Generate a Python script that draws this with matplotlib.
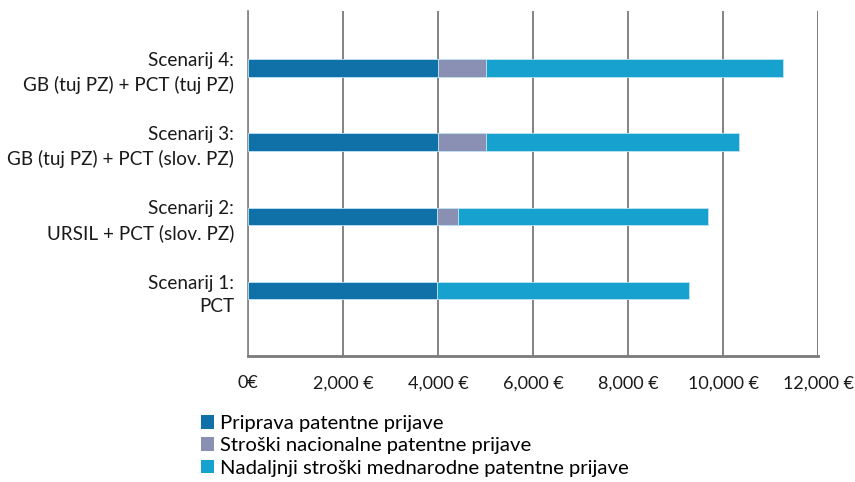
import matplotlib.pyplot as plt
from matplotlib.ticker import FuncFormatter

plt.rcParams['font.family'] = ['Lato', 'DejaVu Sans']

# Data
scenarios = ["Scenarij 1:\nPCT",
             "Scenarij 2:\nURSIL + PCT (slov. PZ)",
             "Scenarij 3:\nGB (tuj PZ) + PCT (slov. PZ)",
             "Scenarij 4:\nGB (tuj PZ) + PCT (tuj PZ)"]
priprava = [3970, 3970, 4000, 4000]
nacionalni = [0, 450, 1020, 1020]
mednarodni = [5310, 5270, 5310, 6240]

series_names = ["Priprava patentne prijave",
                "Stroški nacionalne patentne prijave",
                "Nadaljnji stroški mednarodne patentne prijave"]
colors = ["#1070A8", "#8A90B4", "#17A1CF"]

fig = plt.figure(figsize=(8.55, 4.82), dpi=100)
ax = fig.add_axes([248 / 855, 1 - 356 / 482, 570 / 855, 345 / 482])

y = range(len(scenarios))
left = [0] * len(scenarios)
handles = []
for vals, name, col in zip([priprava, nacionalni, mednarodni], series_names, colors):
    b = ax.barh(y, vals, left=left, height=0.237, color=col,
                edgecolor="#BFE3F2", linewidth=0.6, label=name, zorder=3)
    handles.append(b)
    left = [l + v for l, v in zip(left, vals)]

ax.set_xlim(0, 12000)
ax.set_ylim(-0.883, 3.768)
ax.set_xticks(range(0, 12001, 2000))
ax.xaxis.set_major_formatter(FuncFormatter(lambda v, p: "0€" if v == 0 else f"{int(v):,} €"))
ax.set_yticks(list(y))
ax.set_yticklabels(scenarios, ha="right", linespacing=1.45)
ax.tick_params(axis="y", length=0, labelsize=13.6, colors="#1a1a1a", pad=10)
ax.tick_params(axis="x", length=0, labelsize=13, colors="#1a1a1a", pad=14)

ax.grid(axis="x", color="#7a7a7a", linewidth=1.3, zorder=0)
for s in ["top", "right"]:
    ax.spines[s].set_visible(False)
ax.spines["left"].set_color("#8a8a8a")
ax.spines["left"].set_linewidth(1.3)
ax.spines["bottom"].set_color("#7a7a7a")
ax.spines["bottom"].set_linewidth(2)
ax.axvline(12000, color="#8a8a8a", linewidth=1.8, zorder=1)

leg = fig.legend(handles=handles, labels=series_names, loc="upper left",
                 bbox_to_anchor=(201 / 855, 1 - 415 / 482), frameon=False,
                 fontsize=14.6, handlelength=0.65, handleheight=0.65,
                 handletextpad=0.3, labelspacing=0.26, borderaxespad=0, borderpad=0)
for h in leg.legend_handles:
    h.set_edgecolor("none")

plt.savefig("out.png", dpi=100)
